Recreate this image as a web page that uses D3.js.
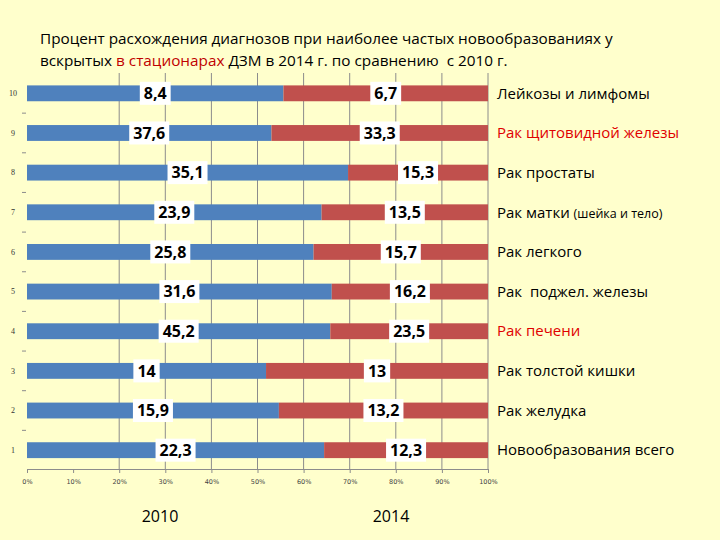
<!DOCTYPE html>
<html>
<head>
<meta charset="utf-8">
<script src="https://cdn.jsdelivr.net/npm/d3@7"></script>
<style>
body { margin: 0; background: #ffffcc; }
svg { display: block; }
text { white-space: pre; }
</style>
</head>
<body>
<svg width="720" height="540"></svg>
<script>
// rows top to bottom, as numbered on the chart
const rows = ["10", "9", "8", "7", "6", "5", "4", "3", "2", "1"]
const names = [
    "Лейкозы и лимфомы",
    "Рак щитовидной железы",
    "Рак простаты",
    "Рак матки (шейка и тело)",
    "Рак легкого",
    "Рак  поджел. железы",
    "Рак печени",
    "Рак толстой кишки",
    "Рак желудка",
    "Новообразования всего"
]
const redNames = ["Рак щитовидной железы", "Рак печени"]
const v2010 = [8.4, 37.6, 35.1, 23.9, 25.8, 31.6, 45.2, 14, 15.9, 22.3]
const v2014 = [6.7, 33.3, 15.3, 13.5, 15.7, 16.2, 23.5, 13, 13.2, 12.3]
const xTicks = [0, 0.1, 0.2, 0.3, 0.4, 0.5, 0.6, 0.7, 0.8, 0.9, 1]
const gridTicks = [0.2, 0.3, 0.4, 0.5, 0.6, 0.7, 0.8, 0.9, 1]
const years = ["2010", "2014"]

const colors = { y2010: "#4f81bd", y2014: "#c0504d" }

const data = rows.map((r, i) => ({ row: r, y2010: v2010[i], y2014: v2014[i] }))
const series = d3.stack().keys(["y2010", "y2014"]).offset(d3.stackOffsetExpand)(data)

const svg = d3.select("svg")

const x = d3.scaleLinear().domain([0, 1]).range([27, 488])
const y = d3.scaleBand().domain(rows).range([73.5, 470]).paddingInner(0.6).paddingOuter(0.3)

// title
const title = svg.append("g")
    .style("font-family", "'Open Sans', sans-serif")
    .style("font-size", "15.3px")
    .attr("fill", "#000")
title.append("text")
    .attr("x", 40).attr("y", 44)
    .text("Процент расхождения диагнозов при наиболее частых новообразованиях у")
const t2 = title.append("text").attr("x", 40).attr("y", 66)
t2.append("tspan").text("вскрытых ")
t2.append("tspan").attr("fill", "#c00000").text("в стационарах")
t2.append("tspan").text(" ДЗМ в 2014 г. по сравнению  с 2010 г.")

// gridlines
svg.append("g")
    .selectAll("line")
    .data(gridTicks)
    .enter()
    .append("line")
    .attr("x1", d => x(d)).attr("x2", d => x(d))
    .attr("y1", 73).attr("y2", 469)
    .style("stroke", "#8c8c8c")
    .style("stroke-width", 1)

// bars
svg.append("g")
    .selectAll("g")
    .data(series)
    .enter()
    .append("g")
    .attr("fill", d => colors[d.key])
    .selectAll("rect")
    .data(d => d)
    .enter()
    .append("rect")
    .attr("x", d => x(d[0]))
    .attr("width", d => x(d[1]) - x(d[0]))
    .attr("y", d => y(d.data.row))
    .attr("height", y.bandwidth())

// value labels in white boxes
const labels = svg.append("g")
    .selectAll("g")
    .data(series.flatMap(s => s.map(d => ({ key: s.key, d: d }))))
    .enter()
    .append("g")
    .attr("transform", e => `translate(${x((e.d[0] + e.d[1]) / 2)},${y(e.d.data.row) + y.bandwidth() / 2})`)

labels.append("text")
    .attr("text-anchor", "middle")
    .attr("dy", "0.36em")
    .style("font-family", "'Open Sans', sans-serif")
    .style("font-weight", "bold")
    .style("font-size", "16px")
    .attr("fill", "#000")
    .text(e => String(e.d.data[e.key]).replace(".", ","))

labels.each(function () {
    const g = d3.select(this)
    const b = g.select("text").node().getBBox()
    g.insert("rect", "text")
        .attr("x", b.x - 4).attr("y", -11.5)
        .attr("width", b.width + 8).attr("height", 23)
        .attr("fill", "#fff")
})

// bottom axis
const axis = svg.append("g")
    .attr("transform", "translate(0,469)")
    .call(d3.axisBottom(x).tickValues(xTicks).tickFormat(d3.format(".0%")).tickSize(4))
axis.select(".domain").attr("stroke", "#8c8c8c")
axis.selectAll(".tick line").attr("stroke", "#8c8c8c")
axis.selectAll(".tick text")
    .attr("y", 10)
    .style("font-family", "'DejaVu Sans', sans-serif")
    .style("font-size", "6.5px")
    .attr("fill", "#444")

// row numbers and small category ticks on the left
svg.append("g")
    .selectAll("text")
    .data(rows)
    .enter()
    .append("text")
    .attr("x", 13)
    .attr("y", d => y(d) + y.bandwidth() / 2)
    .attr("dy", "0.35em")
    .attr("text-anchor", "middle")
    .style("font-family", "'Liberation Serif', serif")
    .style("font-size", "8px")
    .attr("fill", "#333")
    .text(d => d)

svg.append("g")
    .selectAll("line")
    .data(rows.slice(0, -1))
    .enter()
    .append("line")
    .attr("x1", 22).attr("x2", 26)
    .attr("y1", d => y(d) + y.bandwidth() / 2 + y.step() / 2)
    .attr("y2", d => y(d) + y.bandwidth() / 2 + y.step() / 2)
    .style("stroke", "#8c8c8c")

// category names on the right
const nameText = svg.append("g")
    .style("font-family", "'Open Sans', sans-serif")
    .style("font-size", "15px")
    .selectAll("text")
    .data(names)
    .enter()
    .append("text")
    .attr("x", 497)
    .attr("y", (d, i) => y(rows[i]) + y.bandwidth() / 2)
    .attr("dy", "0.35em")
    .attr("fill", d => redNames.includes(d) ? "#e00000" : "#000")

nameText.each(function (d) {
    const t = d3.select(this)
    const k = d.indexOf("(")
    if (k < 0) {
        t.text(d)
    } else {
        t.append("tspan").text(d.slice(0, k))
        t.append("tspan").style("font-size", "12.5px").text(d.slice(k))
    }
})

// year captions
svg.append("g")
    .style("font-family", "'Open Sans', sans-serif")
    .style("font-size", "16px")
    .selectAll("text")
    .data(years)
    .enter()
    .append("text")
    .attr("x", (d, i) => [160, 391][i])
    .attr("y", 522)
    .attr("text-anchor", "middle")
    .attr("fill", "#000")
    .text(d => d)
</script>
</body>
</html>
